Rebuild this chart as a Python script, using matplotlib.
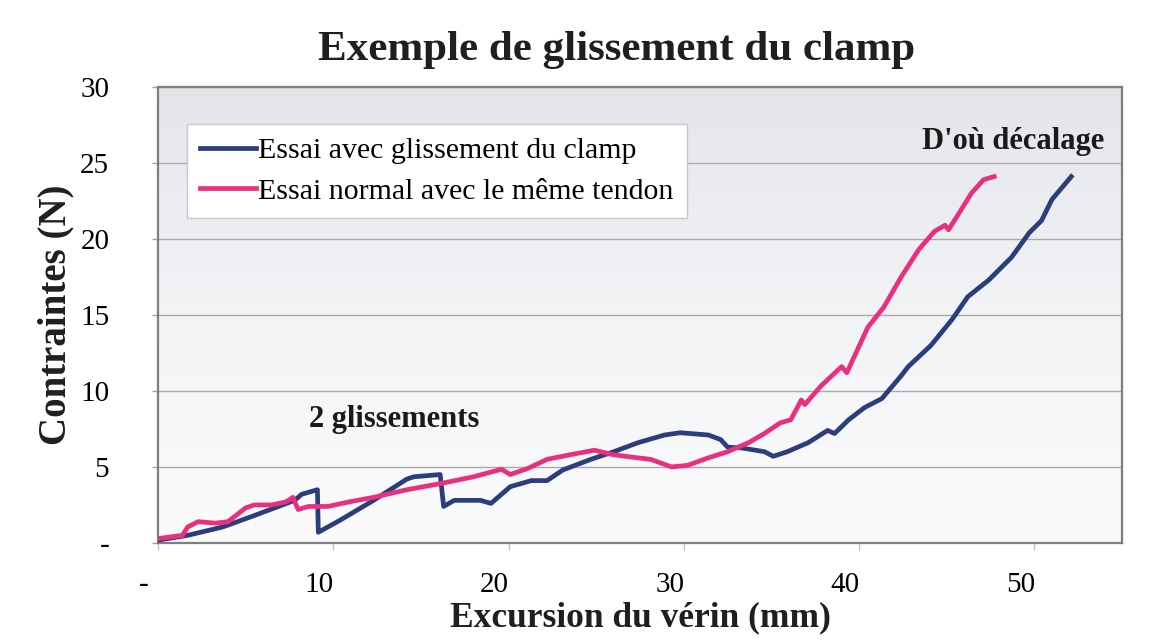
import numpy as np
import matplotlib
matplotlib.use('Agg')
import matplotlib.pyplot as plt
import matplotlib.transforms as mtransforms
from matplotlib.colors import LinearSegmentedColormap

plt.rcParams['font.family'] = ['Liberation Serif', 'DejaVu Serif']

# Essai avec glissement du clamp (mm, N)
clamp_x = [0.1, 1.7, 3.7, 5.5, 7.8, 8.2, 9.1, 9.15, 10.4, 12.3, 14.2, 14.6, 16.1,
           16.3, 16.9, 18.0, 18.4, 19.0, 20.1, 21.3, 22.2, 23.1, 24.7, 26.0, 27.4,
           28.9, 29.8, 31.4, 32.1, 32.5, 33.3, 34.6, 35.1, 35.9, 37.1, 38.2, 38.6,
           39.4, 40.3, 41.3, 42.4, 42.8, 44.1, 45.3, 46.2, 47.4, 48.7, 49.7, 50.4,
           51.0, 52.1]
clamp_y = [0.2, 0.5, 1.05, 1.8, 2.8, 3.2, 3.5, 0.7, 1.5, 2.8, 4.2, 4.35, 4.5,
           2.4, 2.8, 2.8, 2.8, 2.6, 3.7, 4.1, 4.1, 4.8, 5.5, 6.0, 6.6,
           7.1, 7.25, 7.1, 6.8, 6.3, 6.25, 6.0, 5.7, 6.0, 6.6, 7.4, 7.2,
           8.1, 8.9, 9.5, 11.0, 11.6, 13.0, 14.7, 16.2, 17.3, 18.8, 20.4, 21.2,
           22.6, 24.1]

# Essai normal avec le même tendon (mm, N)
normal_x = [0.1, 1.4, 1.7, 2.3, 3.3, 4.0, 5.0, 5.5, 6.5, 7.3, 7.7, 8.0, 8.6,
            9.7, 10.9, 12.3, 14.2, 16.1, 18.0, 19.6, 20.1, 21.1, 22.2, 23.5,
            24.9, 26.0, 27.0, 28.1, 29.3, 30.2, 31.4, 32.5, 33.7, 34.6, 35.5,
            36.1, 36.7, 36.9, 37.8, 39.0, 39.3, 39.9, 40.5, 41.4, 42.4, 43.4,
            44.3, 44.9, 45.1, 45.7, 46.4, 47.1, 47.7]
normal_y = [0.3, 0.5, 1.05, 1.4, 1.3, 1.4, 2.3, 2.5, 2.5, 2.7, 3.0, 2.2, 2.4,
            2.4, 2.7, 3.0, 3.5, 3.9, 4.35, 4.85, 4.5, 4.9, 5.5, 5.8,
            6.1, 5.8, 5.65, 5.5, 5.0, 5.1, 5.6, 6.0, 6.6, 7.2, 7.9,
            8.1, 9.4, 9.1, 10.3, 11.6, 11.2, 12.7, 14.2, 15.5, 17.5, 19.3,
            20.5, 20.9, 20.6, 21.7, 23.0, 23.9, 24.1]

xticks = [0, 10, 20, 30, 40, 50]
xticklabels = ['-', '10', '20', '30', '40', '50']
yticks = [0, 5, 10, 15, 20, 25, 30]
yticklabels = ['-', '5', '10', '15', '20', '25', '30']

fig = plt.figure(figsize=(11.61, 6.41), dpi=100, facecolor='white')
ax = fig.add_axes([0.136, 0.153, 0.8305, 0.7114])

# fond en dégradé gris -> blanc
grad = np.linspace(0, 1, 256).reshape(-1, 1)
cmap = LinearSegmentedColormap.from_list('fond', ['#e3e5e9', '#f3f4f6', '#fbfbfc'])
ax.imshow(grad, extent=[0, 1, 0, 1], transform=ax.transAxes, aspect='auto',
          cmap=cmap, zorder=0, origin='upper')

ax.set_xlim(0, 55)
ax.set_ylim(0, 30)
ax.grid(axis='y', color='#a9a9a9', lw=1.0, zorder=1)
ax.set_yticks(yticks)
ax.set_yticklabels(yticklabels, fontsize=21)
ax.set_xticks(xticks)
ax.set_xticklabels(xticklabels, fontsize=21)
ax.tick_params(axis='y', length=4, width=1, color='#a0a0a0', pad=31)
ax.tick_params(axis='x', length=5, width=1, color='#c0c0c0', pad=16)

# étiquettes de l'axe x décalées vers la gauche
shift = mtransforms.ScaledTranslation(-14 / 100, 0, fig.dpi_scale_trans)
for lab in ax.get_xticklabels():
    lab.set_transform(lab.get_transform() + shift)

for sp in ax.spines.values():
    sp.set_color('#7f7f7f')
    sp.set_linewidth(1.6)

ax.plot(clamp_x, clamp_y, color='#2b3d7a', lw=3.4, zorder=3,
        label='Essai avec glissement du clamp')
ax.plot(normal_x, normal_y, color='#e8307f', lw=3.4, zorder=4,
        label='Essai normal avec le même tendon')

leg = ax.legend(loc='upper left', bbox_to_anchor=(0.03, 0.919), borderaxespad=0,
                fontsize=21.5, handlelength=1.85, handletextpad=0.1,
                labelspacing=0.45, fancybox=False, framealpha=1,
                edgecolor='#c8c8c8', borderpad=0.45)
leg.get_frame().set_linewidth(1.0)

ax.text(13.5, 8.1, '2 glissements', fontsize=22, fontweight='bold',
        ha='center', va='center', color='#1a1a1a', zorder=5)
ax.text(48.8, 26.4, "D'où décalage", fontsize=22, fontweight='bold',
        ha='center', va='center', color='#1a1a1a', zorder=5)

fig.text(0.531, 0.922, 'Exemple de glissement du clamp', fontsize=31,
         fontweight='bold', ha='center', va='center', color='#1f1f1f')
ax.set_xlabel('Excursion du vérin (mm)', fontsize=25.5, fontweight='bold',
              color='#1f1f1f', labelpad=2)
ax.set_ylabel('Contraintes (N)', fontsize=28, fontweight='bold',
              color='#1f1f1f', labelpad=4)

fig.savefig('out.png', dpi=100, facecolor='white')
